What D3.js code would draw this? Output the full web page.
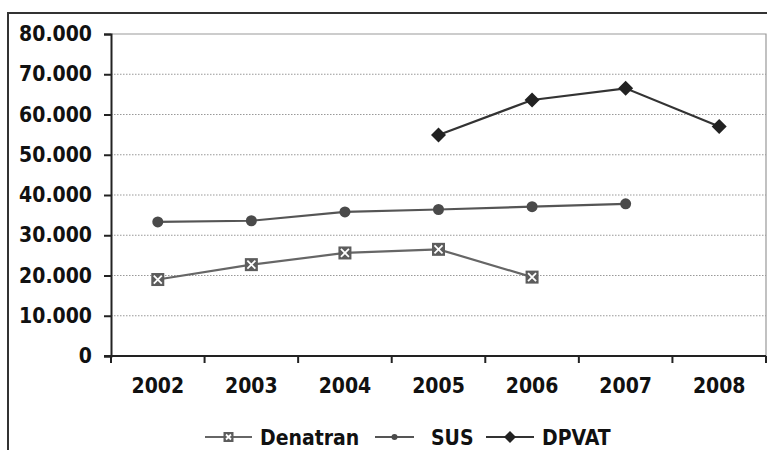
<!DOCTYPE html>
<html>
<head>
<meta charset="utf-8">
<script src="https://cdn.jsdelivr.net/npm/d3@7"></script>
<style>
  html, body { margin: 0; padding: 0; background: #fff; }
  svg { display: block; }
  text { font-family: "DejaVu Sans Condensed", "DejaVu Sans", sans-serif; font-weight: bold; fill: #111; }
</style>
</head>
<body>
<svg id="chart" width="767" height="450"></svg>
<script>
// Years on the category axis
const years = ["2002", "2003", "2004", "2005", "2006", "2007", "2008"];

// Series values (null = no data for that year)
const denatran = [19000, 22700, 25600, 26500, 19600, null, null];
const sus      = [33300, 33600, 35800, 36400, 37100, 37800, null];
const dpvat    = [null, null, null, 54900, 63600, 66500, 57000];

// Y-axis ticks
const yTicks = [0, 10000, 20000, 30000, 40000, 50000, 60000, 70000, 80000];

const FONT = "'DejaVu Sans Condensed', 'DejaVu Sans', sans-serif";

const svg = d3.select("#chart");
const W = 767, H = 450;
const plot = { left: 111, right: 766, top: 34, bottom: 356 };

// Outer frame (top and left edges visible)
svg.append("line").attr("x1", 8).attr("x2", W).attr("y1", 13).attr("y2", 13)
  .attr("stroke", "#333").attr("stroke-width", 2);
svg.append("line").attr("x1", 8).attr("x2", 8).attr("y1", 12).attr("y2", H)
  .attr("stroke", "#333").attr("stroke-width", 2);

const x = d3.scaleBand().domain(years).range([plot.left, plot.right]).padding(0);
const y = d3.scaleLinear().domain([0, 80000]).range([plot.bottom, plot.top]);

const fmt = v => v === 0 ? "0" : d3.format(",")(v).replace(/,/g, ".");

// Plot-area border (top and right)
svg.append("path")
  .attr("d", `M${plot.left},${plot.top}H${plot.right}V${plot.bottom}`)
  .attr("fill", "none").attr("stroke", "#999").attr("stroke-width", 1.2);

// Dotted horizontal gridlines
svg.append("g").selectAll("line")
  .data(yTicks.filter(t => t > 0 && t < 80000))
  .join("line")
  .attr("x1", plot.left).attr("x2", plot.right)
  .attr("y1", d => y(d)).attr("y2", d => y(d))
  .attr("stroke", "#999").attr("stroke-width", 1.2)
  .attr("stroke-dasharray", "1.5,1.5");

// Y axis
const yAxis = svg.append("g")
  .attr("transform", `translate(${plot.left},0)`)
  .call(d3.axisLeft(y).tickValues(yTicks).tickFormat(fmt).tickSize(7).tickPadding(12));
yAxis.attr("font-family", FONT).attr("font-size", 21);
yAxis.select(".domain").attr("stroke", "#222").attr("stroke-width", 2);
yAxis.selectAll(".tick line").attr("stroke", "#222").attr("stroke-width", 2);
yAxis.selectAll(".tick text")
  .attr("font-weight", "bold").attr("fill", "#111");

// X axis: ticks at category boundaries
const xAxisG = svg.append("g").attr("transform", `translate(0,${plot.bottom})`);
xAxisG.append("line").attr("x1", plot.left - 7).attr("x2", plot.right)
  .attr("stroke", "#222").attr("stroke-width", 2);
const bounds = years.map(d => x(d)).concat([x(years[years.length - 1]) + x.bandwidth()]);
xAxisG.selectAll("line.tk").data(bounds).join("line").attr("class", "tk")
  .attr("x1", d => d).attr("x2", d => d).attr("y1", 0).attr("y2", 7)
  .attr("stroke", "#222").attr("stroke-width", 2);
xAxisG.selectAll("text").data(years).join("text")
  .attr("x", d => x(d) + x.bandwidth() / 2)
  .attr("y", 37)
  .attr("text-anchor", "middle")
  .attr("font-size", 21)
  .text(d => d);

const cx = i => x(years[i]) + x.bandwidth() / 2;

const seriesList = [
  { name: "Denatran", values: denatran, line: "#666", marker: "square", fill: "#5c5c5c" },
  { name: "SUS", values: sus, line: "#555", marker: "circle", fill: "#4a4a4a" },
  { name: "DPVAT", values: dpvat, line: "#333", marker: "diamond", fill: "#222" }
];

function drawMarker(g, type, fill, size) {
  if (type === "square") {
    const s = size;
    g.append("rect").attr("x", -s / 2).attr("y", -s / 2).attr("width", s).attr("height", s)
      .attr("fill", fill);
    const k = s / 2 - 2.5;
    g.append("path").attr("d", `M${-k},${-k}L${k},${k}M${k},${-k}L${-k},${k}`)
      .attr("stroke", "#fff").attr("stroke-width", 1.8);
  } else if (type === "circle") {
    g.append("circle").attr("r", size / 2).attr("fill", fill);
  } else {
    const r = size / 2 + 1;
    g.append("path").attr("d", `M0,${-r}L${r},0L0,${r}L${-r},0Z`).attr("fill", fill);
  }
}

seriesList.forEach(s => {
  const pts = s.values.map((v, i) => ({ i, v })).filter(p => p.v !== null);
  const line = d3.line().x(p => cx(p.i)).y(p => y(p.v));
  svg.append("path").datum(pts).attr("d", line)
    .attr("fill", "none").attr("stroke", s.line).attr("stroke-width", 2.2);
  pts.forEach(p => {
    const g = svg.append("g").attr("transform", `translate(${cx(p.i)},${y(p.v)})`);
    drawMarker(g, s.marker, s.fill, s.marker === "circle" ? 11 : 13);
  });
});

// Legend
const legendY = 437;
const legendItems = [
  { s: seriesList[0], x0: 205, x1: 252, tx: 260 },
  { s: seriesList[1], x0: 375, x1: 414, tx: 431 },
  { s: seriesList[2], x0: 486, x1: 534, tx: 542 }
];
legendItems.forEach(it => {
  const g = svg.append("g");
  g.append("line").attr("x1", it.x0).attr("x2", it.x1).attr("y1", legendY).attr("y2", legendY)
    .attr("stroke", it.s.line).attr("stroke-width", 2);
  const m = g.append("g").attr("transform", `translate(${(it.x0 + it.x1) / 2},${legendY})`);
  drawMarker(m, it.s.marker, it.s.fill, it.s.marker === "circle" ? 6 : 10);
  g.append("text").attr("x", it.tx).attr("y", legendY + 8)
    .attr("font-size", 21).text(it.s.name);
});
</script>
</body>
</html>
